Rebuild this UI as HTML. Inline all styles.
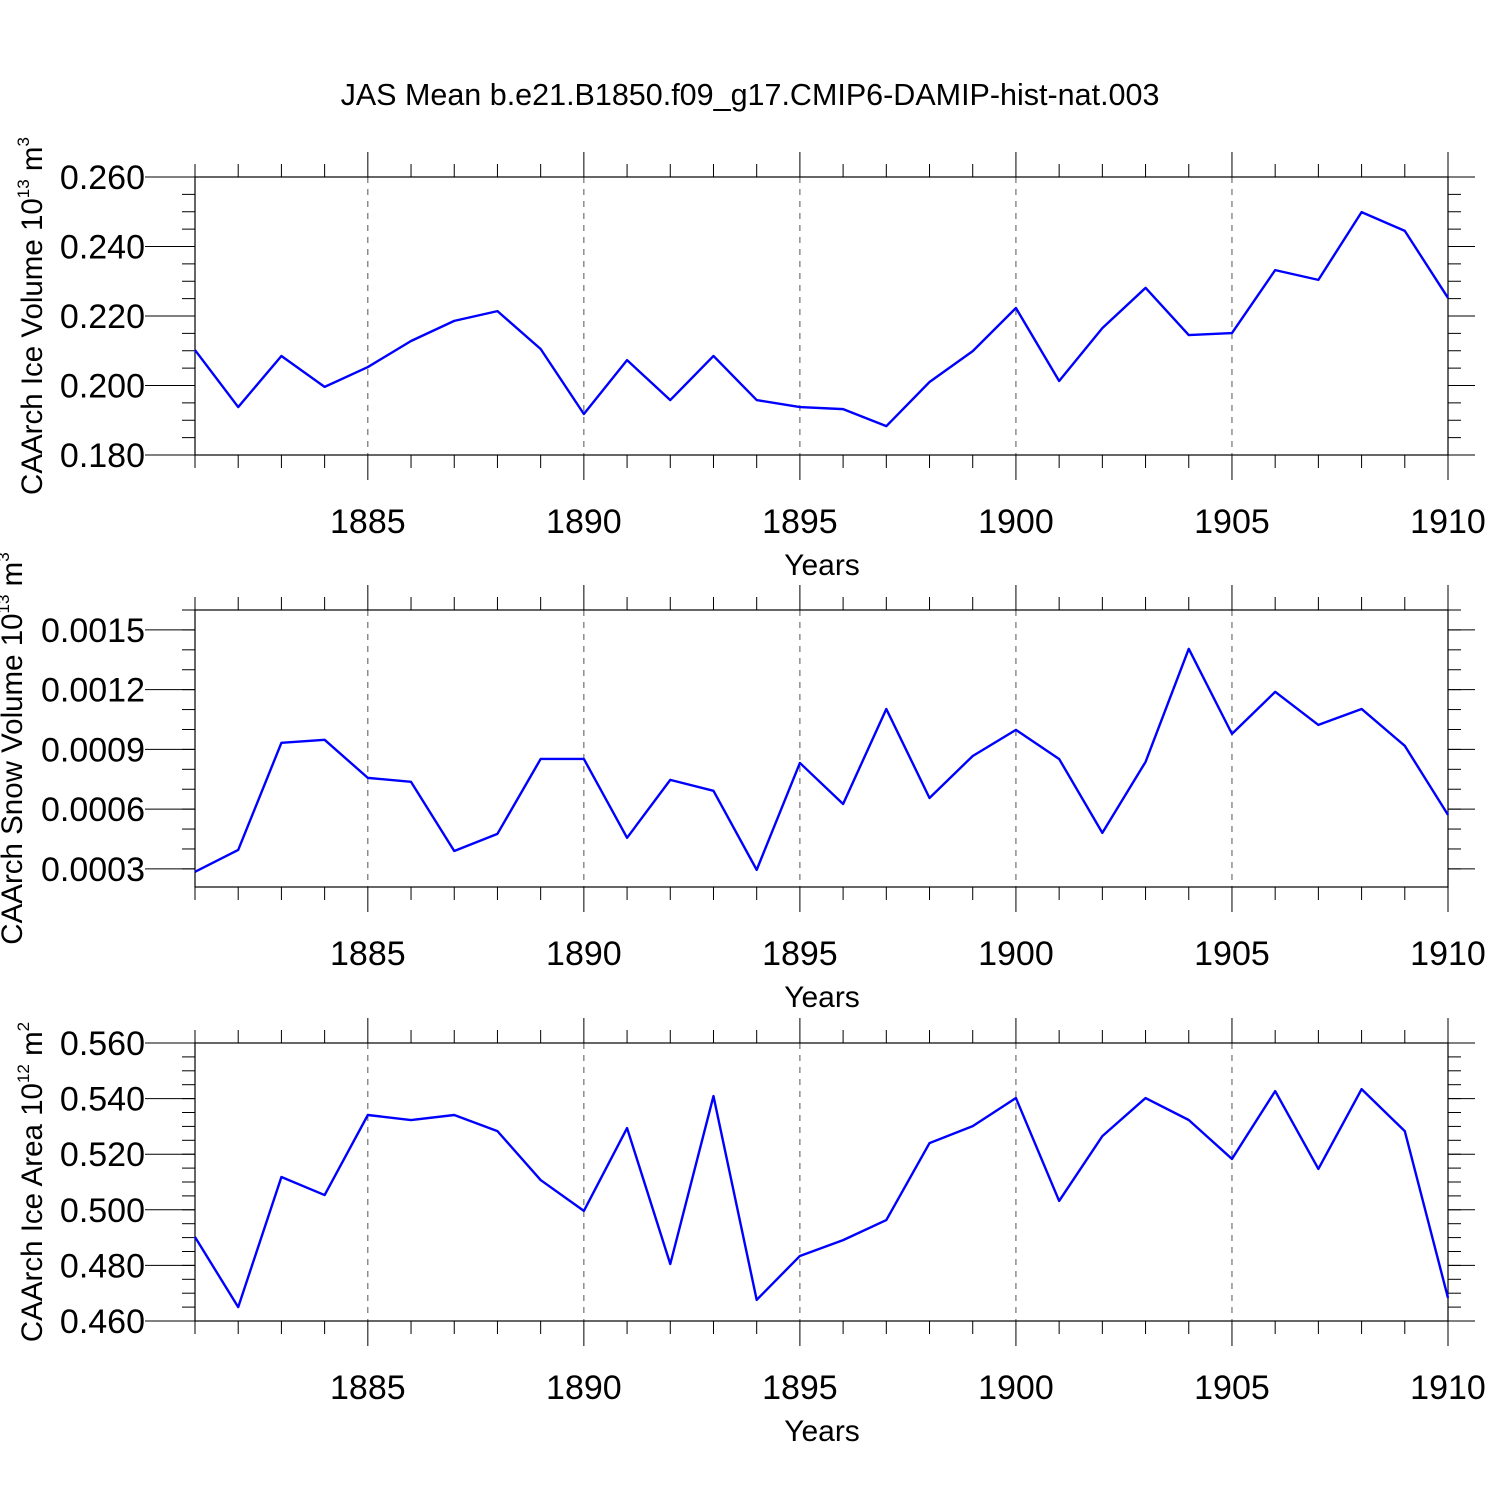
<!DOCTYPE html>
<html><head><meta charset="utf-8">
<style>
html,body{margin:0;padding:0;background:#fff;}
svg{display:block;font-family:"Liberation Sans",Arial,sans-serif;}
</style></head>
<body>
<svg id="chart" width="1500" height="1500" viewBox="0 0 1500 1500" xmlns="http://www.w3.org/2000/svg">
<rect width="1500" height="1500" fill="#fff"/>
<text x="750" y="105" font-size="30.5" text-anchor="middle">JAS Mean b.e21.B1850.f09_g17.CMIP6-DAMIP-hist-nat.003</text>
</svg>
<script>
const years = [1881,1882,1883,1884,1885,1886,1887,1888,1889,1890,1891,1892,1893,1894,1895,1896,1897,1898,1899,1900,1901,1902,1903,1904,1905,1906,1907,1908,1909,1910];
const iceVolume = [0.2102,0.1938,0.2085,0.1996,0.2053,0.2128,0.2186,0.2214,0.2105,0.1918,0.2073,0.1958,0.2085,0.1958,0.1938,0.1932,0.1883,0.2010,0.2099,0.2223,0.2013,0.2165,0.2281,0.2145,0.2151,0.2332,0.2304,0.2499,0.2445,0.2252];
const snowVolume = [0.000285,0.000395,0.000933,0.000948,0.000757,0.000737,0.00039,0.000476,0.000852,0.000852,0.000456,0.000747,0.000692,0.000295,0.000832,0.000626,0.001103,0.000656,0.000867,0.000998,0.000852,0.000481,0.000837,0.001405,0.000978,0.001189,0.001023,0.001103,0.000918,0.000571];
const iceArea = [0.4902,0.4650,0.5118,0.5053,0.5341,0.5323,0.5341,0.5283,0.5107,0.4996,0.5294,0.4805,0.5409,0.4676,0.4834,0.4891,0.4963,0.5240,0.5301,0.5402,0.5032,0.5265,0.5402,0.5323,0.5183,0.5427,0.5147,0.5434,0.5283,0.4683];
const xTicks = [1885,1890,1895,1900,1905,1910];
const iceVolTicks = [0.180,0.200,0.220,0.240,0.260];
const iceVolLabels = ["0.180","0.200","0.220","0.240","0.260"];
const snowTicks = [0.0003,0.0006,0.0009,0.0012,0.0015];
const snowLabels = ["0.0003","0.0006","0.0009","0.0012","0.0015"];
const areaTicks = [0.460,0.480,0.500,0.520,0.540,0.560];
const areaLabels = ["0.460","0.480","0.500","0.520","0.540","0.560"];

const NS="http://www.w3.org/2000/svg";
const svg=document.getElementById('chart');
const X0=195,X1=1448,YMIN=1881,YMAX=1910;
function xs(v){return X0+(v-YMIN)/(YMAX-YMIN)*(X1-X0);}
function mk(tag,attrs,parent){const e=document.createElementNS(NS,tag);for(const k in attrs)e.setAttribute(k,attrs[k]);(parent||svg).appendChild(e);return e;}

const panels=[
 {name:'ice-volume',data:iceVolume,top:177,bot:455,vmin:0.180,vmax:0.260,ticks:iceVolTicks,labels:iceVolLabels,minor:0.005,ytitle:'CAArch Ice Volume 10',sup:'13',unit:' m',usup:'3',tx:42},
 {name:'snow-volume',data:snowVolume,top:610,bot:887,vmin:0.000209,vmax:0.0016,ticks:snowTicks,labels:snowLabels,minor:0.0001,ytitle:'CAArch Snow Volume 10',sup:'13',unit:' m',usup:'3',tx:22},
 {name:'ice-area',data:iceArea,top:1043,bot:1321,vmin:0.460,vmax:0.560,ticks:areaTicks,labels:areaLabels,minor:0.005,ytitle:'CAArch Ice Area 10',sup:'12',unit:' m',usup:'2',tx:42}
];

panels.forEach(p=>{
  const g=mk('g',{});
  
  
  const ys=v=>p.bot-(v-p.vmin)/(p.vmax-p.vmin)*(p.bot-p.top);
  xTicks.forEach(t=>{
    if(t<YMAX){const l=mk('line',{x1:xs(t),x2:xs(t),y1:p.top,y2:p.bot,stroke:'#555','stroke-width':1,'stroke-dasharray':'6,6'},g);
    
    }
  });
  for(let y=YMIN;y<=YMAX;y++){
    const major=xTicks.includes(y);const len=major?25:13;
    mk('line',{x1:xs(y),x2:xs(y),y1:p.top-len,y2:p.top,stroke:'#000','stroke-width':1},g);
    mk('line',{x1:xs(y),x2:xs(y),y1:p.bot,y2:p.bot+len,stroke:'#000','stroke-width':1},g);
  }
  const n=Math.round((p.vmax-p.vmin)/p.minor)+2;
  const start=Math.ceil(p.vmin/p.minor-1e-6)*p.minor;
  for(let i=0;i<n;i++){
    const v=start+i*p.minor; if(v>p.vmax+1e-9)break;
    const y=ys(v);
    mk('line',{x1:X0-13,x2:X0,y1:y,y2:y,stroke:'#000','stroke-width':1},g);
    mk('line',{x1:X1,x2:X1+13,y1:y,y2:y,stroke:'#000','stroke-width':1},g);
  }
  p.ticks.forEach((v,i)=>{
    const y=ys(v);
    mk('line',{x1:X0-50,x2:X0,y1:y,y2:y,stroke:'#000','stroke-width':1},g);
    mk('line',{x1:X1,x2:X1+27,y1:y,y2:y,stroke:'#000','stroke-width':1},g);
    const t=mk('text',{x:145,y:y+12,'font-size':34,'text-anchor':'end'},g);
    
    
    t.textContent=p.labels[i];
  });
  xTicks.forEach(v=>{
    const t=mk('text',{x:xs(v),y:p.bot+78,'font-size':34,'text-anchor':'middle'},g);
    
    
    t.textContent=v;
  });
  const box=mk('rect',{x:X0,y:p.top,width:X1-X0,height:p.bot-p.top,fill:'none',stroke:'#000','stroke-width':1.2},g);
  
  
  const pts=p.data.map((v,i)=>xs(years[i])+','+ys(v)).join(' ');
  const line=mk('polyline',{points:pts,fill:'none',stroke:'#0000ff','stroke-width':2.4,'stroke-linejoin':'round'},g);
  
  
  const xt=mk('text',{x:822,y:p.bot+120,'font-size':30,'text-anchor':'middle'},g);
  
  
  xt.textContent='Years';
  const cy=(p.top+p.bot)/2;
  const yt=mk('text',{x:0,y:0,'font-size':29.5,'text-anchor':'middle',transform:`translate(${p.tx},${cy}) rotate(-90)`},g);
  
  
  const a=mk('tspan',{},yt);a.textContent=p.ytitle;
  const b=mk('tspan',{'font-size':17,dy:-13},yt);b.textContent=p.sup;
  const c=mk('tspan',{dy:13},yt);c.textContent=p.unit;
  const d=mk('tspan',{'font-size':17,dy:-13},yt);d.textContent=p.usup;
});
</script>
</body></html>
